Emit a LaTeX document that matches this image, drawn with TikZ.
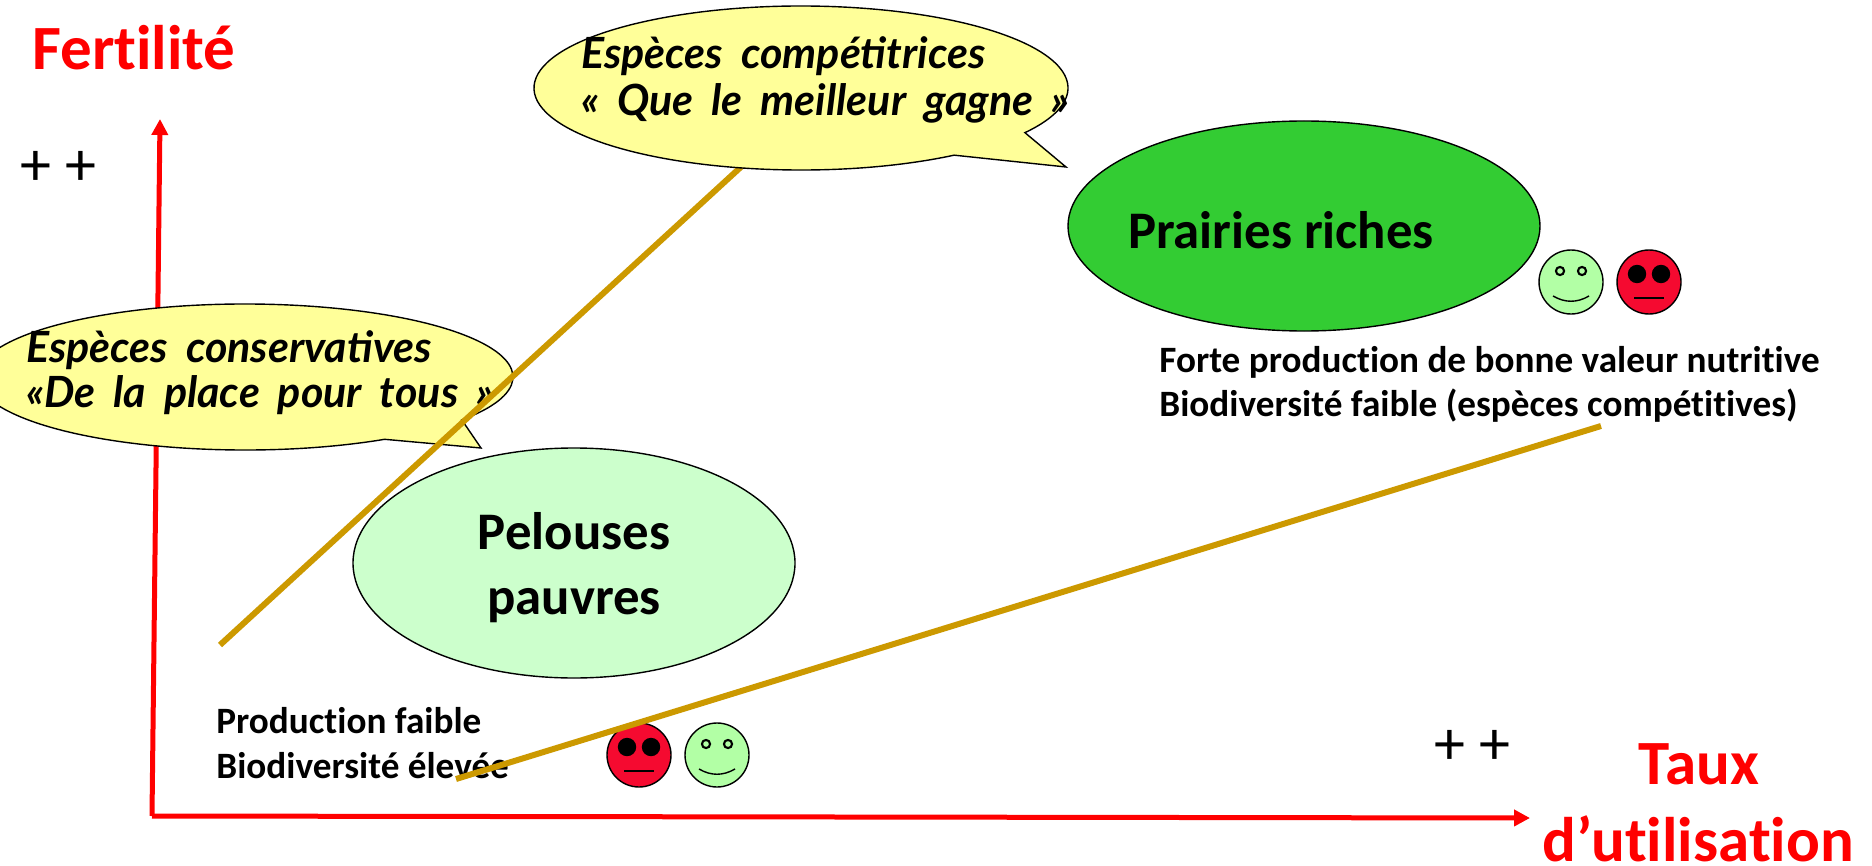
\documentclass[tikz,border=0pt]{standalone}
\usepackage{fontspec}
\setmainfont[Ligatures=NoCommon]{Carlito}
\newfontfamily\handfont[WordSpace=1.9]{Lato}
\usetikzlibrary{shapes.geometric,arrows.meta}
\definecolor{axisred}{HTML}{FF0000}
\definecolor{goldline}{HTML}{CC9900}
\definecolor{bubble}{HTML}{FFFF99}
\definecolor{richgreen}{HTML}{33CC33}
\definecolor{poorgreen}{HTML}{CCFFCC}
\definecolor{happyface}{HTML}{B2FFA5}
\definecolor{sadface}{HTML}{F50A30}
\newcommand{\happy}[2]{%
  \node[face,fill=happyface] (#1) at (#2) {};
  \fill[black] (#1) ++(-11,-11) circle (2.6pt);
  \fill[black] (#1) ++(11,-11) circle (2.6pt);
  \fill[happyface] (#1) ++(-11,-11) circle (1.4pt);
  \fill[happyface] (#1) ++(11,-11) circle (1.4pt);
  \draw[line width=.7pt] (#1) ++(-18,14) .. controls +(12,7) and +(-12,7) .. +(36,0);
}
\newcommand{\sad}[2]{%
  \node[face,fill=sadface] (#1) at (#2) {};
  \fill[black] (#1) ++(-12,-8) circle (4.6pt);
  \fill[black] (#1) ++(12,-8) circle (4.6pt);
  \draw[line width=.7pt] (#1) ++(-15,16) -- +(30,0);
}
\tikzset{
  x=0.5pt,y=-0.5pt,
  axisline/.style={draw=axisred,line width=2.5pt,-{Triangle[length=8pt,width=8pt]}},
  goldstroke/.style={draw=goldline,line width=3pt},
  oval/.style={ellipse,draw=black,line width=.7pt,inner sep=0pt},
  bubbleshape/.style={draw=black,fill=bubble,line width=.7pt,line join=miter},
  face/.style={circle,draw=black,line width=.7pt,minimum size=32pt,inner sep=0pt},
  handtext/.style={anchor=base west,inner sep=0pt,font=\handfont\bfseries\itshape\fontsize{21.5}{24}\selectfont},
  redtitle/.style={text=axisred,inner sep=0pt,anchor=base,font=\bfseries\fontsize{31.5}{34}\selectfont},
  bigtext/.style={inner sep=0pt,anchor=base,font=\bfseries\fontsize{26.4}{30}\selectfont},
  smalltext/.style={anchor=base west,inner sep=0pt,font=\bfseries\fontsize{18.6}{21}\selectfont},
  plustext/.style={anchor=base,inner sep=0pt,font=\fontsize{31}{34}\selectfont},
}
\begin{document}
\begin{tikzpicture}
\useasboundingbox (0,0) rectangle (1872,866);
\clip (0,0) rectangle (1872,866);
\coordinate (origin) at (152,816);
\coordinate (ytip) at (160,119);
\coordinate (xtip) at (1530,818);
\coordinate (g1a) at (220,645);
\coordinate (g1b) at (742,166);
\coordinate (g2a) at (456,779);
\coordinate (g2b) at (1601,426);
\coordinate (c1) at (801,88);
\coordinate (c2) at (245,377);
\coordinate (tip1) at (1066,167);
\coordinate (tip2) at (481,448);
% axes
\draw[axisline] (origin) -- (ytip);
\draw[axisline] (origin) -- (xtip);
% lower callout
\draw[bubbleshape] (c2) ++(-58.6:134pt and 36.5pt) arc[start angle=-58.6,end angle=-396,x radius=134pt,y radius=36.5pt] -- (tip2) -- cycle;
% ellipses
\node[oval,fill=poorgreen,minimum width=221pt,minimum height=115pt] (pel) at (574,563) {};
\node[oval,fill=richgreen,minimum width=236pt,minimum height=105pt] (pra) at (1304,226) {};
% lower text
\node[smalltext] (prod) at (216,733) {Production faible};
\node[smalltext] (biob) at (216,778) {Biodiversité élevée};
\sad{sadb}{639,755}
\happy{hapb}{717,755}
\happy{hapt}{1571,282}
\sad{sadt}{1649,282}
\node[handtext] (cons) at (26,362) {Espèces conservatives};
\node[handtext] (tous) at (26,407) {«De la place pour tous »};
% gold lines
\draw[goldstroke] (g1a) -- (g1b);
\draw[goldstroke] (g2a) -- (g2b);
% upper callout
\draw[bubbleshape] (c1) ++(-55:133.5pt and 41pt) arc[start angle=-55,end angle=-393,x radius=133.5pt,y radius=41pt] -- (tip1) -- cycle;
\node[handtext] (comp) at (581,69) {Espèces compétitrices};
\node[handtext] (meil) at (581,116) {« Que le meilleur gagne »};
% labels
\node[redtitle] (fert) at (134,70) {Fertilité};
\node[redtitle] (taux) at (1699,784) {Taux};
\node[redtitle] (util) at (1698,861) {d’utilisation};
\node[plustext] (ppy) at (58,186) {+ +};
\node[plustext] (ppx) at (1472,764) {+ +};
\node[bigtext] (prich) at (1281,249) {Prairies riches};
\node[bigtext] (pel1) at (574,549) {Pelouses};
\node[bigtext] (pel2) at (574,614) {pauvres};
\node[smalltext] (fort) at (1159,372) {Forte production de bonne valeur nutritive};
\node[smalltext] (biot) at (1159,416) {Biodiversité faible (espèces compétitives)};
\end{tikzpicture}
\end{document}
